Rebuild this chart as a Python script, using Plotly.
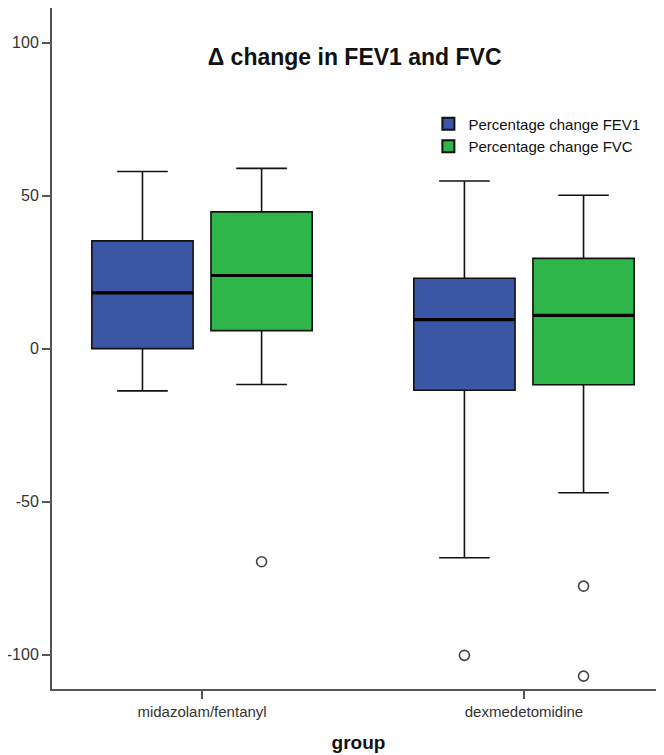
import plotly.graph_objects as go

groups = ["midazolam/fentanyl", "dexmedetomidine"]

# Percentage change FEV1 (per group)
fev1_q1 = [0.0, -13.6]
fev1_median = [18.2, 9.5]
fev1_q3 = [35.2, 23.0]
fev1_lower = [-13.8, -68.3]
fev1_upper = [57.9, 54.8]
fev1_outliers = [[None], [-100.2]]

# Percentage change FVC (per group)
fvc_q1 = [5.9, -11.8]
fvc_median = [23.9, 10.9]
fvc_q3 = [44.7, 29.5]
fvc_lower = [-11.7, -47.1]
fvc_upper = [58.9, 50.1]
fvc_outliers = [[-69.6], [-77.6, -107.0]]

y_ticks = [-100, -50, 0, 50, 100]
y_ticktext = ["-100", "-50", "0", "50", "100"]

BLUE = "#3c56a6"
GREEN = "#2fb64a"

fig = go.Figure()

def add_series(name, color, og, q1, med, q3, lo, up, outl):
    fig.add_trace(go.Box(
        name=name, x=groups, y=outl,
        q1=q1, median=med, q3=q3, lowerfence=lo, upperfence=up,
        boxpoints="outliers", pointpos=0, jitter=0,
        fillcolor=color,
        line=dict(color="#111111", width=1.6),
        whiskerwidth=0.5,
        marker=dict(symbol="circle-open", size=10, color="#444444",
                    line=dict(width=1.6, color="#444444")),
        offsetgroup=og, alignmentgroup="g",
        hoverinfo="skip",
    ))
    # thick median line overlay
    fig.add_trace(go.Box(
        name=name, x=groups,
        q1=med, median=med, q3=med, lowerfence=med, upperfence=med,
        boxpoints=False,
        fillcolor="rgba(0,0,0,0)",
        line=dict(color="#000000", width=3.2),
        whiskerwidth=0,
        offsetgroup=og, alignmentgroup="g",
        showlegend=False, hoverinfo="skip",
    ))

add_series("Percentage change FEV1", BLUE, "a",
           fev1_q1, fev1_median, fev1_q3, fev1_lower, fev1_upper, fev1_outliers)
add_series("Percentage change FVC", GREEN, "b",
           fvc_q1, fvc_median, fvc_q3, fvc_lower, fvc_upper, fvc_outliers)

fig.update_layout(
    width=664, height=755,
    margin=dict(l=44, r=7, t=0, b=74, autoexpand=False),
    paper_bgcolor="white", plot_bgcolor="white",
    font=dict(family="Liberation Sans, Arial, sans-serif", color="#222222"),
    boxmode="group", boxgap=0.26, boxgroupgap=0.15,
    title=dict(text="<b>Δ change in FEV1 and FVC</b>",
               x=0.522, xanchor="center", xref="container",
               y=1 - 49 / 755, yanchor="middle", yref="container",
               font=dict(size=23, color="#111111"), automargin=False),
    legend=dict(x=0.614, y=0.854, xanchor="left", yanchor="top",
                bgcolor="rgba(0,0,0,0)", font=dict(size=15, color="#111111"),
                tracegroupgap=0, itemsizing="constant"),
    showlegend=True,
)

fig.update_xaxes(
    type="category", range=[-0.466, 1.438], automargin=False,
    showline=True, linecolor="#555555", linewidth=2, mirror=True,
    ticks="outside", ticklen=8, tickwidth=1.5, tickcolor="#555555",
    tickfont=dict(size=15, color="#333333"),
    showgrid=False, zeroline=False,
    title=dict(text="<b>group</b>", font=dict(size=19, color="#111111"), standoff=17),
)
fig.update_yaxes(
    range=[-111.2, 111.3], automargin=False,
    tickvals=y_ticks, ticktext=y_ticktext,
    showline=True, linecolor="#555555", linewidth=2,
    ticks="outside", ticklen=8, tickwidth=1.5, tickcolor="#555555",
    tickfont=dict(size=16, color="#333333"),
    showgrid=False, zeroline=False,
)

fig.write_html("out.html")
